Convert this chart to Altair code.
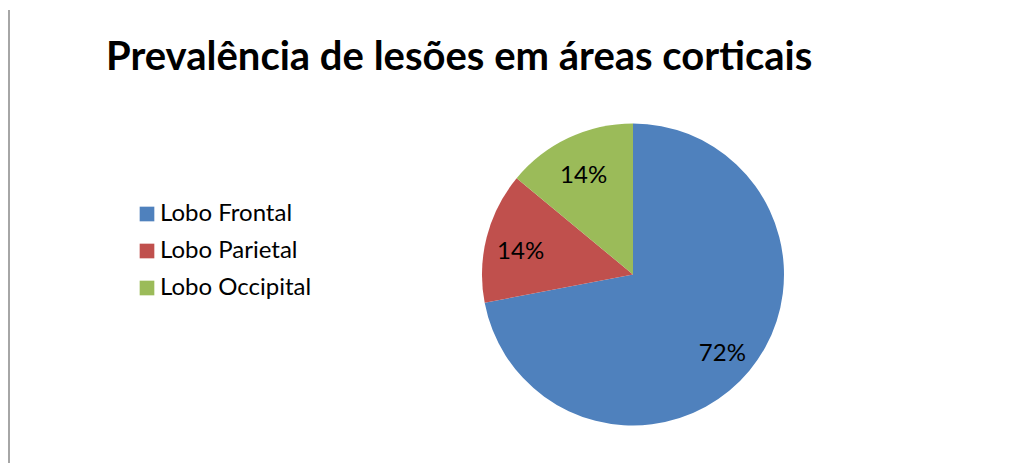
import altair as alt
import pandas as pd

categories = ["Lobo Frontal", "Lobo Parietal", "Lobo Occipital"]
values = [72, 14, 14]
colors = ["#4F81BD", "#C0504D", "#9BBB59"]
title_text = "Prevalência de lesões em áreas corticais"

df = pd.DataFrame({
    "lobo": categories,
    "valor": values,
    "ordem": list(range(len(categories))),
})
df["rotulo"] = [f"{v}%" for v in values]

FONT = "Lato"
CX, CY, R = 625, 266.5, 151

base = alt.Chart(df).encode(
    theta=alt.Theta("valor:Q", stack=True),
    order=alt.Order("ordem:Q"),
)

pie = base.mark_arc(outerRadius=R).encode(
    x=alt.value(CX),
    y=alt.value(CY),
    color=alt.Color(
        "lobo:N",
        scale=alt.Scale(domain=categories, range=colors),
        sort=categories,
        legend=alt.Legend(
            title=None,
            orient="none",
            legendX=127,
            legendY=194,
            symbolType="square",
            symbolSize=215,
            symbolStrokeWidth=0,
            labelFont=FONT,
            labelFontSize=24,
            labelColor="#000000",
            labelOffset=1,
            rowPadding=13,
        ),
    ),
)

labels = base.mark_text(font=FONT, fontSize=24, color="#000000", dy=6).encode(
    x=alt.value(CX),
    y=alt.value(CY),
    radius=alt.value(116),
    text="rotulo:N",
)

title = alt.Chart(pd.DataFrame({"t": [title_text]})).mark_text(
    font=FONT, fontSize=40, fontWeight="bold", align="left", baseline="alphabetic", color="#000000"
).encode(x=alt.value(98), y=alt.value(62), text="t:N")

frame = alt.Chart(pd.DataFrame({"a": [0]})).mark_rule(color="#a6a6a6", strokeWidth=2).encode(
    x=alt.value(1), y=alt.value(2), y2=alt.value(455)
)

chart = alt.layer(frame, pie, labels, title).properties(
    width=994,
    height=460,
    autosize=alt.AutoSizeParams(type="none"),
    padding=0,
).configure_view(stroke=None)

chart.save("out.html", embed_options={"renderer": "svg", "actions": False})
